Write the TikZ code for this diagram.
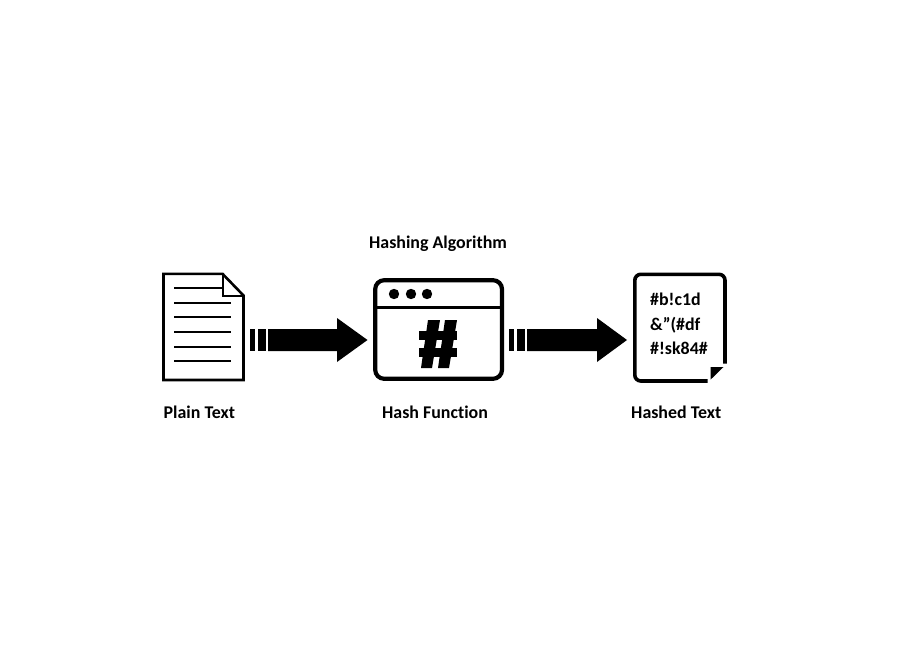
\documentclass[tikz,border=0pt]{standalone}
\usepackage{fontspec}
\setmainfont[Ligatures=NoCommon]{Carlito}
\tikzset{
  lbl/.style={anchor=base west,inner sep=0pt,font=\fontsize{17.9pt}{20pt}\selectfont\bfseries},
  code/.style={anchor=base west,inner sep=0pt,font=\fontsize{17.9pt}{20pt}\selectfont\bfseries},
  heavy/.style={fill=black,draw=none},
  docline/.style={draw=black,line width=1.8pt},
  frame/.style={draw=black,line width=2.6pt,line join=miter},
  winframe/.style={draw=black,line width=4.2pt,rounded corners=9pt},
  bigframe/.style={draw=black,line width=3.6pt},
}
\begin{document}
\begin{tikzpicture}[x=1pt,y=-1pt]
\useasboundingbox[fill=white] (0,0) rectangle (900,650);
% plain text document
\draw[frame] (163.5,273.8) -- (222.5,273.8) -- (243.5,295.5) -- (243.5,380) -- (163.5,380) -- cycle;
\draw[frame,line width=2pt] (222.5,273.8) -- (222.5,295.5) -- (243.5,295.5);
\draw[docline] (174,288) -- (222,288);
\foreach \y in {303,317,332,347,361} \draw[docline] (174,\y) -- (231,\y);
% first arrow
\fill[heavy] (250,329) rectangle (255,351);
\fill[heavy] (258,329) rectangle (265.5,351);
\fill[heavy] (268,329) -- (337,329) -- (337,318) -- (367.5,340) -- (337,362) -- (337,351) -- (268,351) -- cycle;
% window
\draw[winframe] (375.2,280.2) rectangle (502,378.8);
\draw[draw=black,line width=3.6pt] (375.2,307.6) -- (502,307.6);
\foreach \x in {394,411,427} \fill[heavy] (\x,294) circle (5.2);
% hash sign
\fill[heavy] (419,331) rectangle (457,340);
\fill[heavy] (419,348) rectangle (457,357);
\fill[heavy] (428,320) -- (440,320) -- (432,368) -- (421,368) -- cycle;
\fill[heavy] (445,320) -- (457,320) -- (449,368) -- (438,368) -- cycle;
% second arrow
\fill[heavy] (509,329) rectangle (514,351);
\fill[heavy] (517,329) rectangle (525,351);
\fill[heavy] (527,329) -- (597,329) -- (597,318) -- (627,340) -- (597,362) -- (597,351) -- (527,351) -- cycle;
% hashed document
\draw[bigframe,rounded corners=6pt] (725,363.5) -- (725,274.3) -- (634.8,274.3) -- (634.8,381) -- (707.5,381);
\fill[heavy] (710.7,367) -- (723.5,367) -- (710.7,379.5) -- cycle;
% texts
\node[code] (c1) at (650,305) {\#b!c1d};
\node[code] (c2) at (650,330) {\&”(\#df};
\node[code] (c3) at (650,354) {\#!sk84\#};
\node[lbl] (plain) at (163.5,418.5) {Plain Text};
\node[lbl] (algo) at (369,248.5) {Hashing Algorithm};
\node[lbl] (func) at (382,418.5) {Hash Function};
\node[lbl] (hashed) at (631,418.5) {Hashed Text};
\end{tikzpicture}
\end{document}
